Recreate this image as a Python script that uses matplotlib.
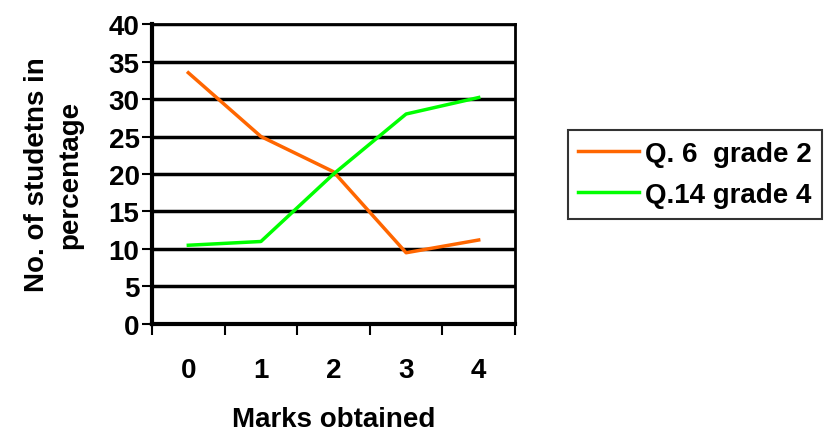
import matplotlib
matplotlib.use("Agg")
import matplotlib.pyplot as plt

# --- data ---
marks = [0, 1, 2, 3, 4]
q6_grade2 = [33.5, 25.0, 20.3, 9.5, 11.2]
q14_grade4 = [10.5, 11.0, 20.0, 28.0, 30.2]
series_labels = ["Q. 6  grade 2", "Q.14 grade 4"]
y_ticks = [0, 5, 10, 15, 20, 25, 30, 35, 40]

plt.rcParams["font.family"] = ["Liberation Sans", "DejaVu Sans"]
plt.rcParams["font.weight"] = "bold"
FS = 20

fig = plt.figure(figsize=(8.24, 4.35), dpi=100)
ax = fig.add_axes([0.1845, 0.2529, 0.4405, 0.6896])

ax.plot(marks, q6_grade2, color="#ff6600", lw=2.5, label=series_labels[0])
ax.plot(marks, q14_grade4, color="#00ff00", lw=2.5, label=series_labels[1])

# --- y axis ---
ax.set_ylim(0, 40)
ax.set_yticks(y_ticks)
ax.set_yticklabels([str(v) for v in y_ticks], fontsize=FS, fontweight="bold")
ax.tick_params(axis="y", length=7, width=1.5, pad=2)
ax.yaxis.grid(True, color="black", lw=2.5)
ax.set_axisbelow(True)

# --- x axis: category style, ticks between categories ---
ax.set_xlim(-0.5, 4.5)
ax.set_xticks([m - 0.5 for m in marks] + [4.5])
ax.set_xticklabels([])
ax.set_xticks(marks, minor=True)
ax.set_xticklabels([str(m) for m in marks], minor=True, fontsize=FS, fontweight="bold")
ax.tick_params(axis="x", which="major", length=8, width=1.5)
ax.tick_params(axis="x", which="minor", length=0, pad=24)

for side in ["left", "bottom"]:
    ax.spines[side].set_linewidth(3)
for side in ["top", "right"]:
    ax.spines[side].set_linewidth(2)

ax.set_xlabel("Marks obtained", fontsize=FS, fontweight="bold", labelpad=16)
ax.set_ylabel("No. of studetns in\npercentage", fontsize=FS, fontweight="bold",
              labelpad=18, linespacing=1.4)

leg = fig.legend(loc="upper left", bbox_to_anchor=(0.689, 0.698), fontsize=FS,
                 frameon=True, fancybox=False, edgecolor="black", handlelength=2.2,
                 borderpad=0.38, labelspacing=0.55, handletextpad=0.2, borderaxespad=0)
leg.get_frame().set_linewidth(1.5)
for t in leg.get_texts():
    t.set_fontweight("bold")

fig.savefig("out.png", dpi=100)
